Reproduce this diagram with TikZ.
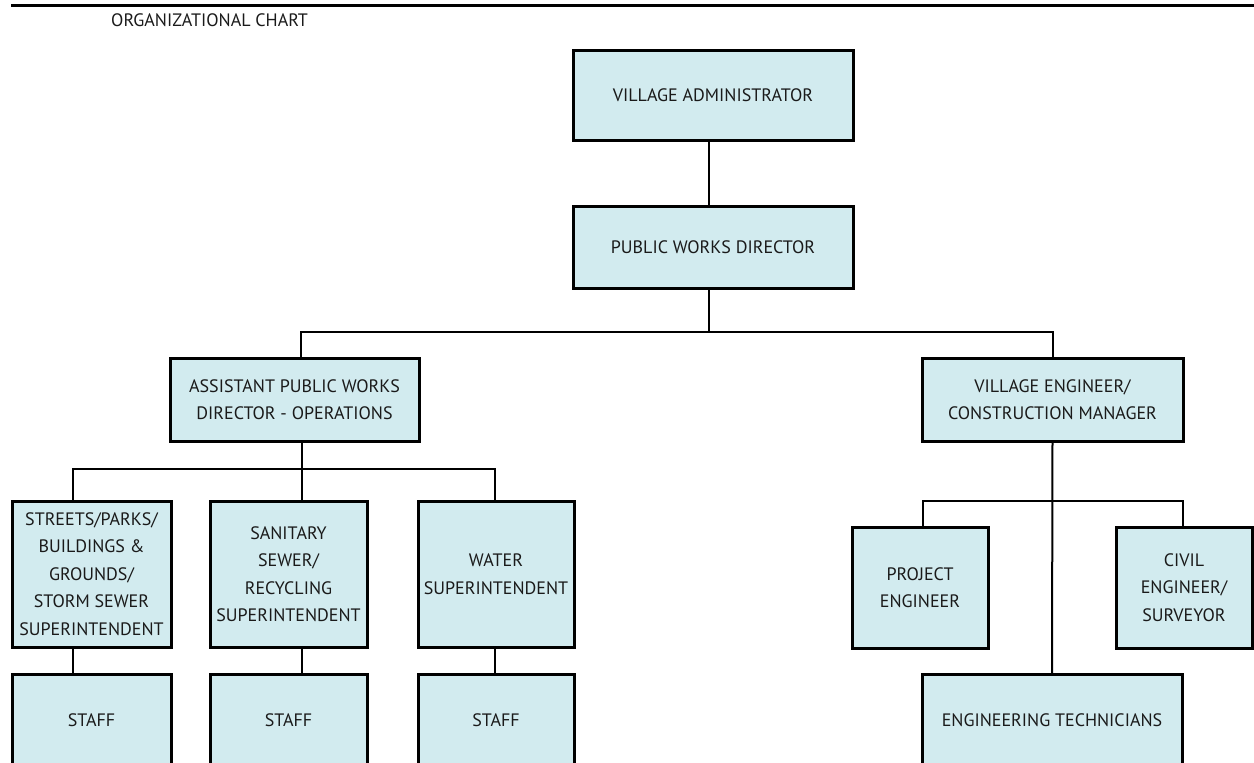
\documentclass[tikz,border=0pt]{standalone}
\usepackage{fontspec}
\setmainfont{PT Sans}
\definecolor{orgfill}{RGB}{210,235,239}
\definecolor{orgline}{RGB}{0,0,0}
\definecolor{orgtext}{RGB}{26,26,26}

\begin{document}
\begin{tikzpicture}[
  yscale = -1,
  orgfont/.style = {font=\fontsize{18pt}{27.5pt}\selectfont,text=orgtext},
  orgbox/.style = {draw=orgline,fill=orgfill,line width=3pt,inner sep=0pt,outer sep=0pt,align=center,orgfont},
  orglink/.style = {color=orgline,line width=2pt},
]
  \useasboundingbox (0pt,0pt) rectangle (1254pt,763pt);
  \draw[color=orgline,line width=3pt] (11pt,5pt) -- (1254pt,5pt);
  \node (title) at (111pt,20pt)[anchor=west,orgfont,inner sep=0pt]{ORGANIZATIONAL CHART};
  \node (va) at (713pt,95pt)[orgbox,minimum width=280pt,minimum height=90pt]{VILLAGE ADMINISTRATOR};
  \node (pwd) at (713pt,247pt)[orgbox,minimum width=280pt,minimum height=82pt]{PUBLIC WORKS DIRECTOR};
  \node (asst) at (294.5pt,399.5pt)[orgbox,minimum width=249pt,minimum height=83pt]{ASSISTANT PUBLIC WORKS\\DIRECTOR - OPERATIONS};
  \node (vecm) at (1052.5pt,399.5pt)[orgbox,minimum width=261pt,minimum height=83pt]{VILLAGE ENGINEER/\\CONSTRUCTION MANAGER};
  \node (streets) at (91.5pt,574pt)[orgbox,minimum width=159pt,minimum height=146pt]{STREETS/PARKS/\\BUILDINGS \&\\GROUNDS/\\STORM SEWER\\SUPERINTENDENT};
  \node (sanitary) at (288.5pt,574pt)[orgbox,minimum width=157pt,minimum height=146pt]{SANITARY\\SEWER/\\RECYCLING\\SUPERINTENDENT};
  \node (water) at (496pt,574pt)[orgbox,minimum width=156pt,minimum height=146pt]{WATER\\SUPERINTENDENT};
  \node (staffa) at (91.5pt,720pt)[orgbox,minimum width=159pt,minimum height=92pt]{STAFF};
  \node (staffb) at (288.5pt,720pt)[orgbox,minimum width=157pt,minimum height=92pt]{STAFF};
  \node (staffc) at (496pt,720pt)[orgbox,minimum width=156pt,minimum height=92pt]{STAFF};
  \node (project) at (920pt,587.5pt)[orgbox,minimum width=136pt,minimum height=121pt]{PROJECT\\ENGINEER};
  \node (civil) at (1184pt,587.5pt)[orgbox,minimum width=136pt,minimum height=121pt]{CIVIL\\ENGINEER/\\SURVEYOR};
  \node (engtech) at (1052pt,720pt)[orgbox,minimum width=260pt,minimum height=92pt]{ENGINEERING TECHNICIANS};
  \draw[orglink] ([xshift=-4pt]va.south) -- ([xshift=-4pt]pwd.north);
  \draw[orglink] ([xshift=-4pt]pwd.south) -- ++(0pt,44pt);
  \draw[orglink] ([xshift=6.5pt]asst.north) -- ++(0pt,-26pt) -| (vecm.north);
  \draw[orglink] ([xshift=7.5pt]asst.south) -- ++(0pt,28pt);
  \draw[orglink] ([xshift=-18.5pt]streets.north) -- ++(0pt,-32pt) -| ([xshift=-1pt]water.north);
  \draw[orglink] ([xshift=13.5pt]sanitary.north) -- ++(0pt,-32pt);
  \draw[orglink] ([xshift=-18.5pt]streets.south) -- ([xshift=-18.5pt]staffa.north);
  \draw[orglink] ([xshift=13.5pt]sanitary.south) -- ([xshift=13.5pt]staffb.north);
  \draw[orglink] ([xshift=-1pt]water.south) -- ([xshift=-1pt]staffc.north);
  \draw[orglink] (vecm.south) -- (engtech.north);
  \draw[orglink] ([xshift=3pt]project.north) -- ++(0pt,-26pt) -| ([xshift=-1pt]civil.north);
\end{tikzpicture}
\end{document}
